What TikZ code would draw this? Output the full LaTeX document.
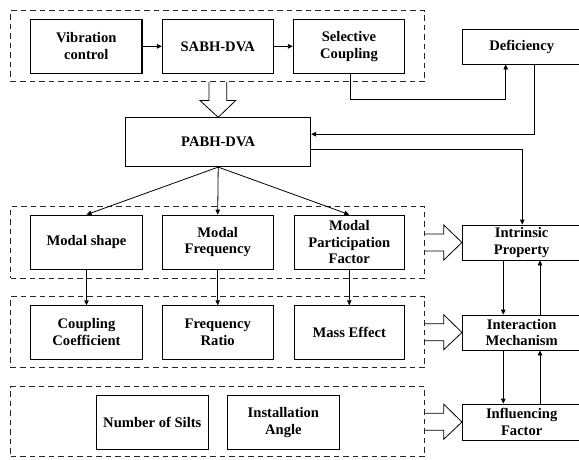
\documentclass[tikz,border=0pt]{standalone}
\usepackage{fontspec}
\setmainfont{Liberation Serif}
\usetikzlibrary{arrows.meta,calc}
\begin{document}
\begin{tikzpicture}[x=1pt,y=-1pt,
  box/.style={draw=black,line width=0.8pt,inner sep=0pt,align=center,
    font=\fontsize{14.6}{16.9}\selectfont\bfseries},
  dbox/.style={draw=black!85,line width=0.9pt,dash pattern=on 5.5pt off 4pt,inner sep=0pt},
  arr/.style={draw=black,line width=0.8pt,-{Triangle[length=5pt,width=4.5pt]}},
  hollow/.style={draw=black,line width=0.8pt,fill=white,line join=miter}]
\useasboundingbox (0,0) rectangle (579,459);
% dashed groups
\node[dbox,minimum width=414pt,minimum height=71pt] (d1) at (217.7,46.2) {};
\node[dbox,minimum width=414pt,minimum height=71.6pt] (d2) at (217.7,242.5) {};
\node[dbox,minimum width=414pt,minimum height=71pt] (d3) at (217.7,332.2) {};
\node[dbox,minimum width=414pt,minimum height=70pt] (d4) at (217.7,421.7) {};
% top row
\node[box,line width=1.5pt,minimum width=111.3pt,minimum height=54pt] (vc) at (86.3,46.3) {Vibration\\control};
\node[box,minimum width=111pt,minimum height=54pt] (sabh) at (217.8,46.3) {SABH-DVA};
\node[box,minimum width=111.4pt,minimum height=54pt] (sel) at (349,46.3) {Selective\\Coupling};
\node[box,minimum width=118.7pt,minimum height=35pt] (def) at (521.7,46.5) {Deficiency};
% PABH
\node[box,minimum width=185pt,minimum height=49pt] (pabh) at (218.2,142.2) {PABH-DVA};
% second row
\node[box,minimum width=111.6pt,minimum height=54pt] (ms) at (86.5,242) {Modal shape};
\node[box,minimum width=111pt,minimum height=54pt] (mf) at (217.7,242) {Modal\\Frequency};
\node[box,minimum width=110.7pt,minimum height=54pt] (mpf) at (349.3,242) {Modal\\Participation\\Factor};
% third row
\node[box,minimum width=111.6pt,minimum height=53.3pt] (cc) at (86.5,332.3) {Coupling\\Coefficient};
\node[box,minimum width=111pt,minimum height=53.3pt] (fr) at (217.7,332.3) {Frequency\\Ratio};
\node[box,minimum width=110.7pt,minimum height=53.3pt] (me) at (349.3,332.3) {Mass Effect};
% fourth row
\node[box,minimum width=111.3pt,minimum height=53.3pt] (ns) at (152.3,422.3) {Number of Silts};
\node[box,minimum width=111.2pt,minimum height=53.3pt] (ia) at (283.4,422.3) {Installation\\Angle};
% right column
\node[box,minimum width=118.7pt,minimum height=35pt] (intr) at (521.7,242.5) {Intrinsic\\Property};
\node[box,minimum width=118.7pt,minimum height=35pt] (inter) at (521.7,332.5) {Interaction\\Mechanism};
\node[box,minimum width=118.7pt,minimum height=36pt] (infl) at (521.7,422) {Influencing\\Factor};
% connectors top
\draw[arr] (vc) -- (sabh);
\draw[arr] (sabh) -- (sel);
\coordinate (c1) at ($(sel.south)+(1.7,25.3)$);
\draw[arr] ([xshift=1.7pt]sel.south) -- (c1) -| ([xshift=-16pt]def.south);
\draw[arr] ([xshift=13pt]def.south) |- ([yshift=8pt]pabh.east);
\draw[arr] ([yshift=-7pt]pabh.east) -| ([xshift=0.6pt]intr.north);
% hollow down arrow
\draw[hollow] ($(d1.south)+(-8.8,0)$) -- ++(0,18.3) -- ++(-9,0) -- (pabh.north) -- ($(d1.south)+(18,18.3)$) -- ++(-9,0) -- ($(d1.south)+(9,0)$);
% fan-out
\draw[arr] (pabh.south) -- (ms.north);
\draw[arr] (pabh.south) -- (mf.north);
\draw[arr] (pabh.south) -- (mpf.north);
\draw[arr] (ms) -- (cc);
\draw[arr] (mf) -- (fr);
\draw[arr] (mpf) -- (me);
% right vertical arrows
\draw[arr] ([xshift=-18.4pt]intr.south) -- ([xshift=-18.4pt]inter.north);
\draw[arr] ([xshift=18.3pt]inter.north) -- ([xshift=18.3pt]intr.south);
\draw[arr] ([xshift=-18.4pt]inter.south) -- ([xshift=-18.4pt]infl.north);
\draw[arr] ([xshift=18.3pt]infl.north) -- ([xshift=18.3pt]inter.south);
% hollow right arrows
\foreach \a/\b in {d2/intr,d3/inter,d4/infl}{
  \draw[hollow] ($(\a.east)+(0,-8.5)$) -- ($(\a.east)+(18.6,-8.5)$) -- ($(\a.east)+(18.6,-17.5)$)
     -- (\b.west) -- ($(\a.east)+(18.6,17.5)$) -- ($(\a.east)+(18.6,8.5)$) -- ($(\a.east)+(0,8.5)$);
}
\end{tikzpicture}
\end{document}
